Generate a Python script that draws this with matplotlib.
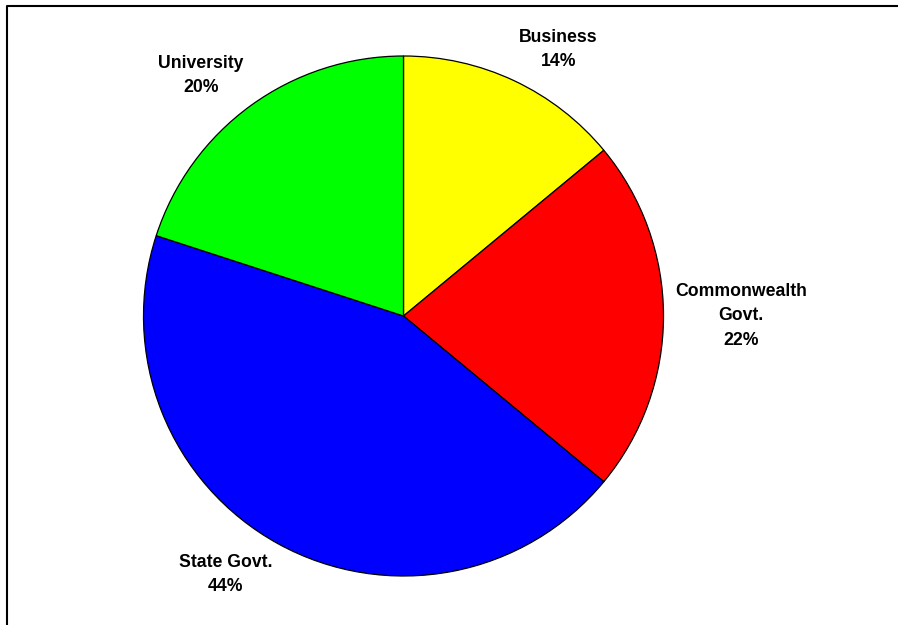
import numpy as np
import matplotlib.pyplot as plt
from matplotlib.lines import Line2D

# Datos del grafico
categorias = ['Business', 'Commonwealth\nGovt.', 'State Govt.', 'University']
porcentajes = [14, 22, 44, 20]
colores = ['#FFFF00', '#FF0000', '#0000FF', '#00FF00']

W, H = 898, 625
fig = plt.figure(figsize=(W / 100, H / 100), dpi=100)
fig.patch.set_facecolor('white')

# Eje del pie (centro ~ (403.5, 316) px, radio ~260 px)
cx, cy, r = 403.5, 316, 260
ax = fig.add_axes([(cx - r) / W, (H - cy - r) / H, 2 * r / W, 2 * r / H])
wedges, _ = ax.pie(porcentajes, colors=colores, startangle=90, counterclock=False,
                   radius=1, wedgeprops={'edgecolor': 'black', 'linewidth': 0.9})
ax.set_xlim(-1, 1)
ax.set_ylim(-1, 1)
ax.set_aspect('equal')
ax.axis('off')

# Etiquetas estilo Excel (fuera del borde, ancladas a la esquina cercana)
for w, cat, p in zip(wedges, categorias, porcentajes):
    ang = np.deg2rad((w.theta1 + w.theta2) / 2)
    x, y = 1.045 * np.cos(ang), 1.045 * np.sin(ang)
    ha = 'left' if np.cos(ang) > 0.1 else ('right' if np.cos(ang) < -0.1 else 'center')
    va = 'bottom' if np.sin(ang) > 0.1 else ('top' if np.sin(ang) < -0.1 else 'center')
    ax.text(x, y, f'{cat}\n{p}%', ha=ha, va=va, multialignment='center',
            fontsize=12.7, fontweight='bold', family='Liberation Sans',
            linespacing=1.55, clip_on=False)

# Borde del area del grafico (solo se ven arriba e izquierda)
bx, by = 6.5 / W, 1 - 5.5 / H
fig.add_artist(Line2D([bx, bx, 1.01], [-0.01, by, by], transform=fig.transFigure,
                      color='black', linewidth=1.5))

fig.savefig('out.png', dpi=100)
